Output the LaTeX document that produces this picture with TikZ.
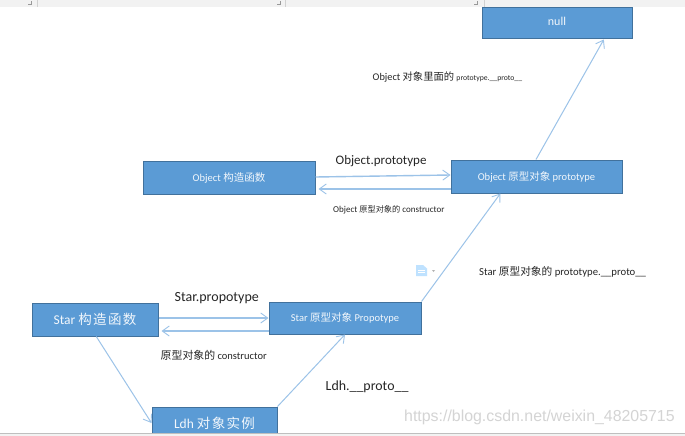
\documentclass[tikz,border=0pt]{standalone}
\usepackage{fontspec}
\setmainfont{Carlito}
\newfontfamily\cj{Noto Sans CJK SC}
\newfontfamily\wm{Liberation Sans}
\usetikzlibrary{arrows.meta,calc}
\definecolor{boxfill}{HTML}{5B9BD5}
\definecolor{boxline}{HTML}{41719C}
\definecolor{arrowc}{HTML}{9CC3E8}
\definecolor{barc}{HTML}{F2F2F2}
\tikzset{
  x=1pt,y=-1pt,
  box/.style={draw=boxline,line width=1pt,fill=boxfill,text=white!92!boxfill,inner sep=0pt,align=center},
  link/.style={draw=arrowc,line width=1pt,-{Straight Barb[length=7pt,width=10pt,line width=0.9pt]}},
  hlink/.style={link,line width=1.4pt},
  lbl/.style={text=black!85,inner sep=0pt,anchor=west},
}
\begin{document}
\begin{tikzpicture}
\useasboundingbox (0,0) rectangle (685,436);
\clip (0,0) rectangle (685,436);
\fill[white] (0,0) rectangle (685,436);
% top bar
\fill[barc] (0,0) rectangle (685,7);
\draw[black!18,line width=0.5pt] (37,0) -- (37,7) (285,0) -- (285,7) (484,0) -- (484,7);
\draw[black!40,line width=0.5pt] (28,4) -- (31,4) -- (31,1) (277,4) -- (280,4) -- (280,1) (474,4) -- (477,4) -- (477,1);
% nodes
\node[box,minimum width=150pt,minimum height=31.5pt,font=\fontsize{12}{14}\selectfont] (null) at (557,23.25) {\raisebox{3pt}{null}};
\node[box,minimum width=172pt,minimum height=33pt,font=\fontsize{10.5}{12}\selectfont] (objc) at (229,177.5) {Object {\cj 构造函数}};
\node[box,minimum width=171pt,minimum height=33pt,font=\fontsize{10.5}{12}\selectfont] (objp) at (536.5,176.5) {Object {\cj 原型对象} prototype};
\node[box,minimum width=126pt,minimum height=33pt,font=\fontsize{13.5}{15}\selectfont] (starc) at (95,319.5) {Star {\cj\addfontfeature{LetterSpace=10} 构造函数}};
\node[box,minimum width=152pt,minimum height=32pt,font=\fontsize{10.5}{12}\selectfont] (starp) at (345,318) {Star {\cj 原型对象} Propotype};
\node[box,minimum width=125pt,minimum height=32pt,font=\fontsize{13.5}{15}\selectfont] (ldh) at (214.5,423) {Ldh {\cj\addfontfeature{LetterSpace=10} 对象实例}};
% connectors
\draw[link] ($(starc.south west)!0.51!(starc.south east)$) -- ($(ldh.west)+(0,0)$);
\draw[link] (ldh.north east) -- (starp.south);
\draw[link] (starp.north east) -- ($(objp.south west)!0.29!(objp.south east)$);
\draw[link] ($(objp.north west)!0.497!(objp.north east)$) -- ($(null.south west)!0.81!(null.south east)$);
\draw[hlink] ($(starc.east)+(0,-1.5)$) -- ($(starp.west)$);
\draw[hlink] ($(starp.west)+(0,13)$) -- ($(starc.east)+(3,11.5)$);
\draw[hlink] ($(objc.east)+(0,-0.5)$) -- ($(objp.west)+(0,-1.5)$);
\draw[hlink] ($(objp.west)+(0,12.5)$) -- ($(objc.east)+(3,11.5)$);
% labels
\node[lbl,font=\fontsize{10.3}{12}\selectfont] (t1) at (372.5,77) {Object {\cj\fontsize{10.3}{12}\selectfont 对象里面的} {\fontsize{7.7}{9}\selectfont prototype.\_\_proto\_\_}};
\node[lbl,font=\fontsize{13}{15}\selectfont] (t2) at (335.5,161.5) {Object.prototype};
\node[lbl,font=\fontsize{9}{11}\selectfont] (t3) at (333,210) {Object {\cj\fontsize{8.2}{9}\selectfont 原型对象的} constructor};
\node[lbl,font=\fontsize{10.7}{12}\selectfont] (t4) at (479,271.5) {Star {\cj 原型对象的} prototype.\_\_proto\_\_};
\node[lbl,font=\fontsize{14}{15}\selectfont] (t5) at (174.5,298) {Star.propotype};
\node[lbl,font=\fontsize{10.5}{12}\selectfont] (t6) at (160.5,355) {{\cj\fontsize{10.9}{12}\selectfont 原型对象的} constructor};
\node[lbl,font=\fontsize{13.9}{15}\selectfont] (t7) at (325.5,387) {Ldh.\_\_proto\_\_};
% watermark
\node[lbl,text=black!17,font=\wm\fontsize{15.9}{18}\selectfont] (wm) at (404,417) {https://blog.csdn.net/weixin\_48205715};
% paste icon
\fill[blue!45!cyan!25!white] (416,265) -- (423,265) -- (427,268.5) -- (427,276) -- (416,276) -- cycle;
\draw[white,line width=0.6pt] (418,270) -- (425,270) (418,272.5) -- (425,272.5);
\fill[black!30] (432,270) -- (435,270) -- (433.5,272) -- cycle;
% bottom bar
\fill[barc] (0,433) rectangle (685,436);
\draw[black!25,line width=0.8pt] (0,433) -- (685,433);
\end{tikzpicture}
\end{document}
